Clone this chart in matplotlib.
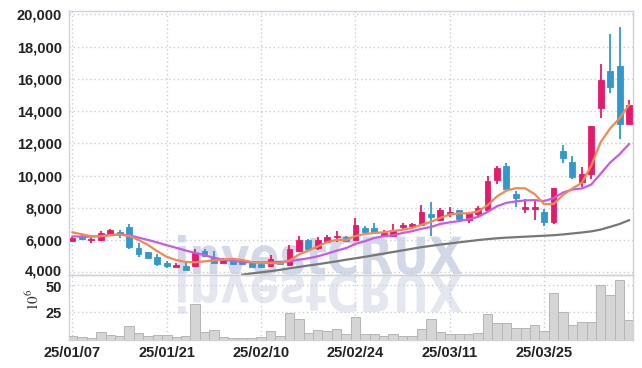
import numpy as np
import matplotlib
matplotlib.use("Agg")
import matplotlib.pyplot as plt
from matplotlib.textpath import TextPath
from matplotlib.font_manager import FontProperties
from matplotlib.patches import PathPatch
from matplotlib.transforms import Affine2D, IdentityTransform, ScaledTranslation

# ---------------- data ----------------
x_labels = ['25/01/07', '25/01/21', '25/02/10', '25/02/24', '25/03/11', '25/03/25']
x_label_pos = [0, 10, 20, 30, 40, 50]

opens = [5950, 6280, 5990, 6030, 6300, 6500, 6790, 5480, 5250, 4940,
         4570, 4350, 4410, 4390, 5330, 4900, 4600, 4680, 4690, 4550,
         4540, 4410, 4660, 4460, 5310, 5990, 5510, 5910, 6160, 6160,
         6030, 6780, 6780, 6280, 6240, 6840, 6880, 6940, 7630, 7260,
         7610, 7850, 7250, 7640, 7870, 9730, 10600, 8880, 7950, 7910,
         7740, 7100, 11530, 10850, 9630, 10080, 14220, 16500, 16810, 13190]
highs = [6200, 6350, 6100, 6560, 6690, 6620, 6990, 5820, 5280, 5150,
         4720, 4570, 4550, 5420, 5460, 5350, 4860, 4720, 4720, 4580,
         4560, 5080, 4700, 5700, 6260, 6070, 6160, 6320, 6570, 6280,
         7360, 6880, 7050, 6610, 6990, 7030, 7070, 8150, 8360, 8020,
         8040, 7870, 7770, 8120, 9980, 10620, 10810, 9070, 8570, 8510,
         7910, 9230, 11880, 11240, 10540, 13080, 16910, 18790, 19210, 14700]
lows = [5900, 5980, 5800, 5950, 6250, 6150, 5420, 4940, 4860, 4390,
        4270, 4330, 4150, 4310, 4920, 4550, 4550, 4500, 4500, 4330,
        4280, 4330, 4500, 4410, 5240, 5450, 5370, 5870, 5850, 5870,
        5990, 6430, 6470, 6240, 6200, 6650, 6760, 6900, 6280, 7160,
        7460, 7150, 7040, 7500, 7830, 9480, 9150, 8080, 7660, 7250,
        6880, 7000, 10770, 9770, 9320, 9770, 13580, 15110, 12280, 13190]
closes = [6150, 6050, 6090, 6440, 6620, 6390, 5540, 5130, 4900, 4490,
          4370, 4470, 4160, 5210, 5000, 4600, 4760, 4530, 4540, 4350,
          4310, 4810, 4520, 5450, 6010, 5470, 5990, 6220, 6280, 5950,
          6940, 6530, 6530, 6450, 6610, 6940, 7010, 7730, 7440, 7880,
          7770, 7330, 7660, 8010, 9650, 10460, 9170, 8630, 8030, 8030,
          7100, 9230, 11120, 9940, 10100, 13080, 15940, 15520, 13190, 14370]

ma5 = [6480, 6360, 6240, 6230, 6300, 6340, 6250, 6010, 5700, 5300,
       4960, 4760, 4640, 4620, 4680, 4740, 4790, 4840, 4760, 4640,
       4580, 4560, 4560, 4730, 5100, 5350, 5600, 5870, 6010, 6010,
       6250, 6380, 6440, 6480, 6570, 6640, 6750, 6950, 7130, 7380,
       7590, 7660, 7660, 7780, 8160, 8710, 9070, 9220, 9210, 8850,
       8230, 8240, 8800, 9200, 9560, 10620, 12080, 12930, 13570, 14390]
ma10 = [6230, 6210, 6210, 6260, 6320, 6340, 6300, 6150, 6010, 5850,
        5680, 5520, 5350, 5210, 5060, 4900, 4790, 4710, 4650, 4620,
        4610, 4620, 4650, 4680, 4780, 4870, 4990, 5160, 5340, 5500,
        5760, 5930, 6130, 6240, 6300, 6440, 6550, 6700, 6810, 7000,
        7100, 7180, 7290, 7440, 7750, 8100, 8310, 8400, 8460, 8480,
        8420, 8600, 8950, 9140, 9200, 9450, 10120, 10810, 11330, 11960]
ma60 = [np.nan] * 18 + [3850, 3930,
        4000, 4070, 4150, 4250, 4330, 4420, 4500, 4590, 4680, 4780,
        4870, 4960, 5060, 5160, 5260, 5360, 5460, 5560, 5640, 5720,
        5790, 5860, 5930, 6000, 6060, 6110, 6150, 6180, 6210, 6240,
        6270, 6300, 6350, 6410, 6470, 6540, 6650, 6820, 7000, 7230]

volume = [2.9, 2.3, 1.4, 6.6, 4.1, 2.9, 12.1, 5.6, 2.9, 3.8,
          3.8, 2.3, 2.9, 32.2, 6.6, 8.4, 2.0, 1.1, 1.1, 1.3,
          2.6, 7.8, 3.2, 24.3, 18.8, 6.3, 8.7, 7.8, 9.6, 5.0,
          20.6, 5.0, 5.0, 3.2, 5.0, 3.2, 3.2, 9.3, 18.5, 6.9,
          4.7, 4.7, 4.7, 5.9, 23.4, 15.1, 15.1, 10.2, 10.2, 13.3,
          7.8, 42.3, 25.2, 13.3, 15.7, 15.7, 49.9, 40.8, 54.2, 17.6]

price_ticks = [4000, 6000, 8000, 10000, 12000, 14000, 16000, 18000, 20000]
vol_ticks = [25, 50]

# ---------------- style ----------------
UP = '#E31B6D'
DOWN = '#3399CC'
GRID = '#C9CEDC'
SPINE = '#D2D2D2'
TXT = '#222222'
FONT = ['Liberation Sans Narrow', 'Liberation Sans', 'DejaVu Sans']

W, H = 642, 368
fig = plt.figure(figsize=(W / 100, H / 100), dpi=100)
fig.patch.set_facecolor('white')

L, R = 69, 632.5
ax1 = fig.add_axes([L / W, (H - 274.5) / H, (R - L) / W, (274.5 - 11) / H])
ax2 = fig.add_axes([L / W, (H - 339.5) / H, (R - L) / W, 65 / H], sharex=ax1)

n = len(closes)
xs = np.arange(n)

# watermark
tp = TextPath((0, 0), 'investCRUX', size=100,
              prop=FontProperties(family='DejaVu Sans', weight='bold'))
bb = tp.get_extents()
x0, x1 = 178, 462
base = H - 274.3
top = H - 235
sx = (x1 - x0) / bb.width
sy = (top - base) / bb.y1
tr_main = Affine2D().translate(-bb.x0, 0).scale(sx, sy).translate(x0, base)
tr_refl = Affine2D().translate(-bb.x0, 0).scale(sx, -sy).translate(x0, base)
wm1 = PathPatch(tr_main.transform_path(tp), transform=IdentityTransform(),
                facecolor='#D2D8E7', edgecolor='none', zorder=0.5)
wm2 = PathPatch(tr_refl.transform_path(tp), transform=IdentityTransform(),
                facecolor='#E4E7EF', edgecolor='none', zorder=0.5)
ax1.add_artist(wm1)
wm1.set_clip_path(ax1.patch)
ax2.add_artist(wm2)
wm2.set_clip_path(ax2.patch)

# candles
bw = 0.62
for i in range(n):
    o, h, l, c = opens[i], highs[i], lows[i], closes[i]
    col = UP if c >= o else DOWN
    ax1.vlines(xs[i], l, h, color=col, linewidth=1.3, zorder=3)
    lo, hi = min(o, c), max(o, c)
    if hi - lo < 40:
        hi = lo + 40
    ax1.bar(xs[i], hi - lo, bottom=lo, width=bw, color=col,
            edgecolor=col, linewidth=0.6, zorder=4)

# moving averages
ax1.plot(xs, ma60, color='#777777', linewidth=1.6, zorder=5)
ax1.plot(xs, ma10, color='#C95AE8', linewidth=1.6, zorder=5)
ax1.plot(xs, ma5, color='#F08A50', linewidth=1.6, zorder=5)

# volume
ax2.bar(xs, volume, width=1.0, color='#D5D5D5', edgecolor='#B5B5B5',
        linewidth=0.7, zorder=3)

# axes
ax1.set_xlim(-0.37, n - 1 + 0.37)
ax1.set_ylim(3863, 20217)
ax2.set_ylim(0, 59.5)

ax1.set_yticks(price_ticks)
ax1.set_yticklabels([f'{v:,}' for v in price_ticks])
ax2.set_yticks(vol_ticks)
ax2.set_yticklabels([str(v) for v in vol_ticks])
ax2.set_xticks(x_label_pos)
ax2.set_xticklabels(x_labels)
plt.setp(ax1.get_xticklabels(), visible=False)

for ax in (ax1, ax2):
    ax.set_facecolor('none')
    ax.grid(True, color=GRID, linestyle=(0, (1, 2)), linewidth=1.0, zorder=1)
    ax.set_axisbelow(True)
    for s in ax.spines.values():
        s.set_color(SPINE)
        s.set_linewidth(1.0)
    ax.tick_params(length=0, pad=5, colors=TXT)
    for lab in ax.get_yticklabels() + ax.get_xticklabels():
        lab.set_fontfamily(FONT)
        lab.set_fontweight('bold')
        lab.set_fontsize(10.5)
        lab.set_color(TXT)

ax1.tick_params(axis='x', length=0)
ax2.tick_params(axis='x', pad=5)

# nudge the two adjoining edge labels apart, as in the reference
fig.canvas.draw()
lab4000 = ax1.get_yticklabels()[0]
lab4000.set_transform(lab4000.get_transform() + ScaledTranslation(0, 2.5 / 100, fig.dpi_scale_trans))
lab50 = ax2.get_yticklabels()[1]
lab50.set_transform(lab50.get_transform() + ScaledTranslation(0, -1.5 / 100, fig.dpi_scale_trans))

fig.text(33 / W, (H - 300) / H, r'$10^6$', rotation=90, ha='center', va='center',
         fontsize=11, color='#333333', math_fontfamily='stix')

fig.savefig('out.png', dpi=100)
